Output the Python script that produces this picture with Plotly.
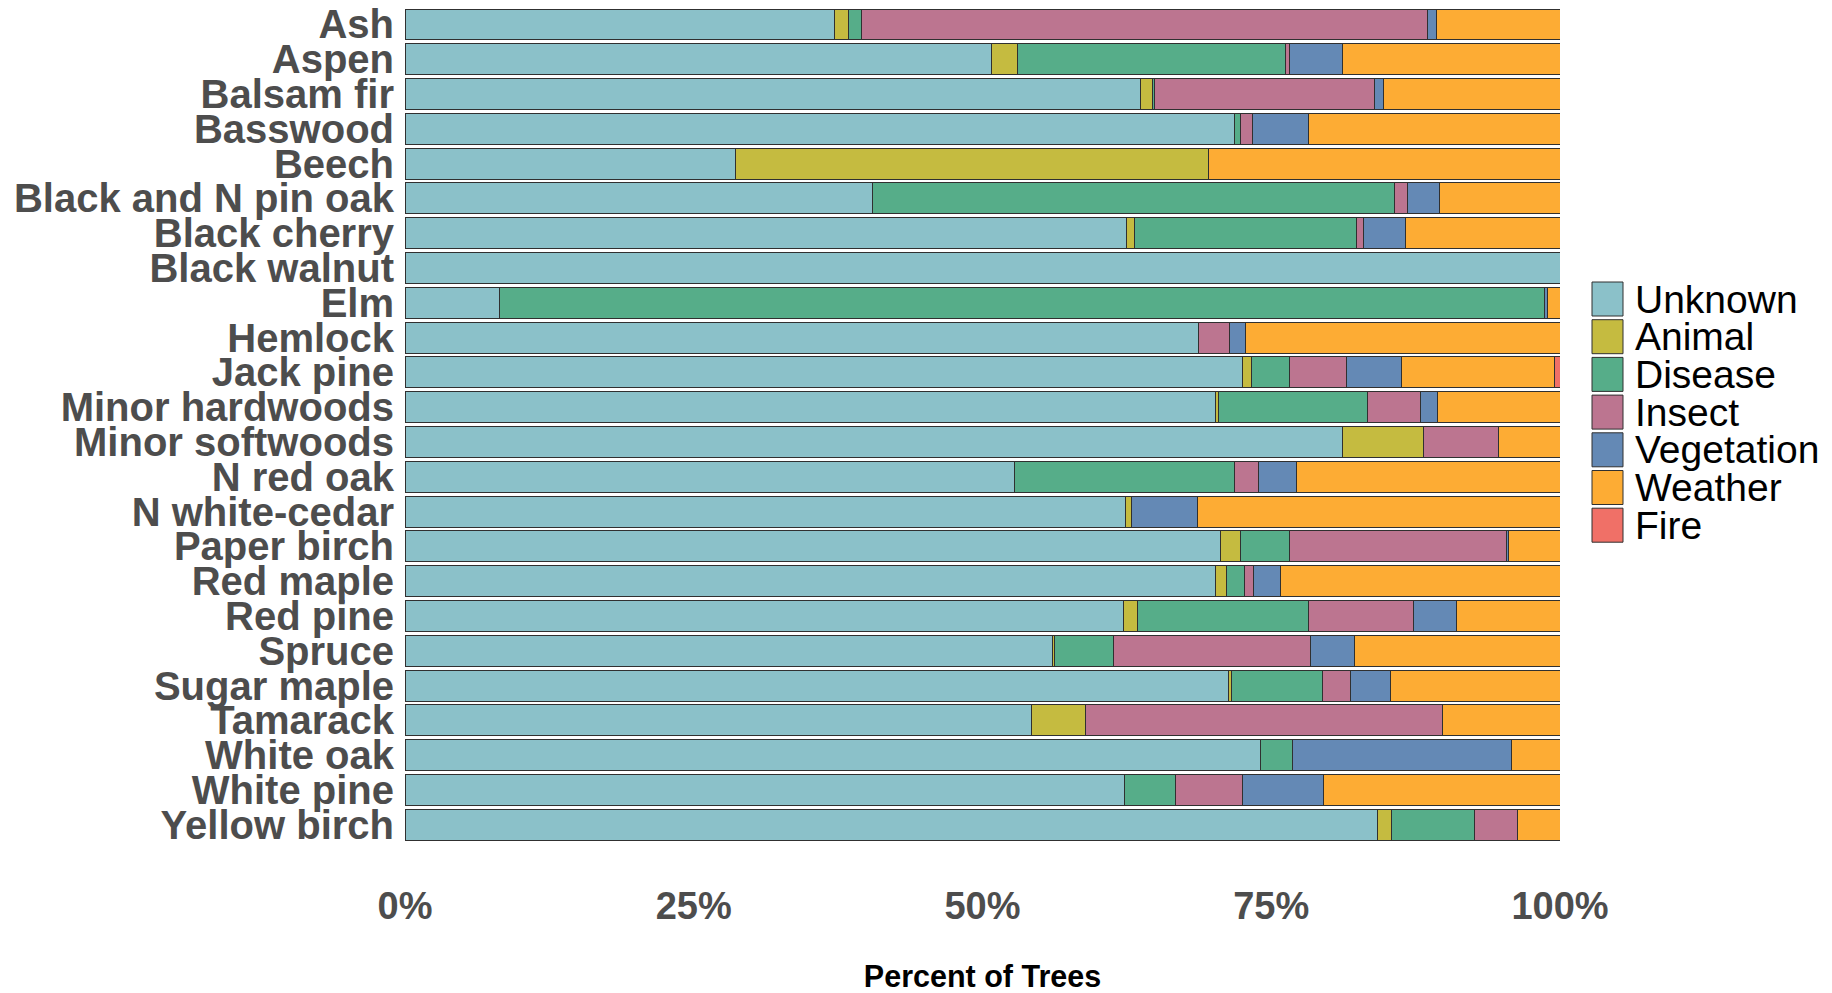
import plotly.graph_objects as go

species = ["Ash", "Aspen", "Balsam fir", "Basswood", "Beech", "Black and N pin oak",
           "Black cherry", "Black walnut", "Elm", "Hemlock", "Jack pine", "Minor hardwoods",
           "Minor softwoods", "N red oak", "N white-cedar", "Paper birch", "Red maple",
           "Red pine", "Spruce", "Sugar maple", "Tamarack", "White oak", "White pine",
           "Yellow birch"]

causes = ["Unknown", "Animal", "Disease", "Insect", "Vegetation", "Weather", "Fire"]

unknown    = [37.2, 50.8, 63.7, 71.8, 28.6, 40.5, 62.5, 100.0, 8.2, 68.7, 72.5, 70.2,
              81.2, 52.8, 62.4, 70.6, 70.2, 62.2, 56.1, 71.3, 54.2, 74.1, 62.3, 84.2]
animal     = [1.2, 2.2, 1.0, 0.0, 41.0, 0.0, 0.7, 0.0, 0.0, 0.0, 0.8, 0.2,
              7.0, 0.0, 0.5, 1.7, 0.9, 1.2, 0.1, 0.3, 4.7, 0.0, 0.0, 1.2]
disease    = [1.1, 23.2, 0.2, 0.5, 0.0, 45.2, 19.2, 0.0, 90.5, 0.0, 3.3, 12.9,
              0.0, 19.0, 0.0, 4.3, 1.6, 14.8, 5.1, 7.8, 0.0, 2.7, 4.4, 7.2]
insect     = [49.0, 0.4, 19.0, 1.1, 0.0, 1.1, 0.6, 0.0, 0.0, 2.7, 4.9, 4.6,
              6.5, 2.1, 0.0, 18.8, 0.8, 9.1, 17.1, 2.5, 30.9, 0.0, 5.8, 3.7]
vegetation = [0.8, 4.6, 0.8, 4.8, 0.0, 2.8, 3.6, 0.0, 0.2, 1.4, 4.8, 1.5,
              0.0, 3.3, 5.7, 0.1, 2.3, 3.7, 3.8, 3.4, 0.0, 19.0, 7.0, 0.0]
weather    = [10.7, 18.8, 15.3, 21.8, 30.4, 10.4, 13.4, 0.0, 1.1, 27.2, 13.2, 10.6,
              5.3, 22.8, 31.4, 4.5, 24.2, 9.0, 17.8, 14.7, 10.2, 4.2, 20.5, 3.7]
fire       = [0.0, 0.0, 0.0, 0.0, 0.0, 0.0, 0.0, 0.0, 0.0, 0.0, 0.5, 0.0,
              0.0, 0.0, 0.0, 0.0, 0.0, 0.0, 0.0, 0.0, 0.0, 0.0, 0.0, 0.0]

series = [unknown, animal, disease, insect, vegetation, weather, fire]

colors = ["#8BC1C9", "#C5BB40", "#56AD89", "#BC7590", "#6489B5", "#FDAC34", "#F07067"]

x_tickvals = [0, 25, 50, 75, 100]
x_ticktext = ["0%", "25%", "50%", "75%", "100%"]

# page body has an 8px margin, so the figure is sized to fill the window exactly
W, H = 1824, 985
ML, MR, MT, MB = 397, 272, 0, 147
PW, PH = W - ML - MR, H - MT - MB

fig = go.Figure()
for name, vals, col in zip(causes, series, colors):
    fig.add_trace(go.Bar(
        y=species, x=[v if v > 0 else None for v in vals], name=name,
        orientation="h", marker=dict(color=col, line=dict(color="#303030", width=1)),
        showlegend=False,
    ))

# legend drawn as large keys (like ggplot)
key_left, key_w, key_h, key_step, key_top = 1584, 31, 34, 37.7, 274
shapes, annotations = [], []
for i, (name, col) in enumerate(zip(causes, colors)):
    top = key_top + i * key_step
    x0 = (key_left - ML) / PW
    x1 = (key_left + key_w - ML) / PW
    y0 = 1 - (top + key_h - MT) / PH
    y1 = 1 - (top - MT) / PH
    shapes.append(dict(type="rect", xref="paper", yref="paper", x0=x0, x1=x1, y0=y0, y1=y1,
                       fillcolor=col, line=dict(color="#303030", width=1)))
    annotations.append(dict(xref="paper", yref="paper", x=(key_left + key_w + 10 - ML) / PW,
                            y=(y0 + y1) / 2, text=name, showarrow=False, xanchor="left",
                            yanchor="middle",
                            font=dict(family="Liberation Sans, Arial", size=39, color="#000000")))

fig.update_layout(
    width=W, height=H, barmode="stack", bargap=0.11,
    margin=dict(l=ML, r=MR, t=MT, b=MB, pad=0, autoexpand=False),
    plot_bgcolor="white", paper_bgcolor="white",
    shapes=shapes, annotations=annotations,
    font=dict(family="Liberation Sans, Arial"),
    xaxis=dict(range=[0, 100], tickmode="array", tickvals=x_tickvals, ticktext=x_ticktext,
               automargin=False,
               showgrid=False, zeroline=False, showline=False,
               ticks="outside", ticklen=26, tickcolor="rgba(0,0,0,0)",
               tickfont=dict(family="Liberation Sans, Arial", size=38, color="#4D4D4D", weight="bold"),
               title=dict(text="Percent of Trees", standoff=42,
                          font=dict(family="Liberation Sans, Arial", size=30.5, color="#000000", weight="bold"))),
    yaxis=dict(categoryorder="array", categoryarray=species, range=[23.61, -0.474],
               tickmode="array", tickvals=species, ticktext=species,
               automargin=False,
               showgrid=False, zeroline=False, showline=False,
               ticks="outside", ticklen=2, tickcolor="rgba(0,0,0,0)",
               tickfont=dict(family="Liberation Sans, Arial", size=40, color="#4D4D4D", weight="bold")),
)

fig.write_html("out.html")
